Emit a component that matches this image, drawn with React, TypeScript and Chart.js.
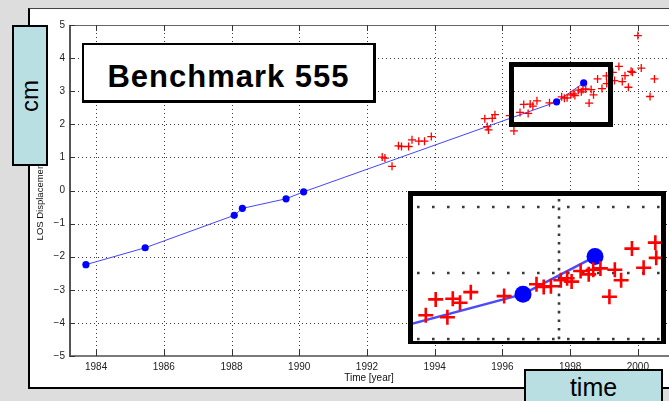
import { useEffect, useRef } from "react";
import { Chart, registerables } from "chart.js";

Chart.register(...registerables);

// ---- data ----
const obsYears = [
  1992.45, 1992.53, 1992.74, 1992.93, 1993.02, 1993.23, 1993.33, 1993.53, 1993.7, 1993.9,
  1995.48, 1995.55, 1995.59, 1995.7, 1995.78, 1996.22, 1996.34, 1996.52, 1996.63, 1996.76,
  1996.82, 1996.9, 1997.02, 1997.39, 1997.75, 1997.83, 1997.91, 1998.02, 1998.09, 1998.14,
  1998.24, 1998.33, 1998.38, 1998.46, 1998.56, 1998.62, 1998.69, 1998.81, 1998.94, 1999.07,
  1999.08, 1999.26, 1999.31, 1999.44, 1999.54, 1999.62, 1999.72, 1999.8, 1999.84, 2000.0,
  2000.1, 2000.36, 2000.49,
];
const obsValues = [
  1.01, 0.98, 0.73, 1.35, 1.33, 1.33, 1.53, 1.49, 1.49, 1.63,
  2.17, 1.93, 1.83, 2.18, 2.29, 2.26, 1.8, 2.36, 2.6, 2.33,
  2.61, 2.55, 2.71, 2.65, 2.83, 2.79, 2.8, 2.89, 2.92, 2.87,
  3.03, 2.98, 3.05, 3.07, 2.64, 3.05, 2.89, 3.37, 3.08, 3.46,
  3.23, 3.57, 3.32, 3.75, 3.29, 3.47, 3.12, 3.6, 3.57, 4.68,
  3.7, 2.84, 3.37,
];
const fitYears = [1983.7, 1985.45, 1988.08, 1988.32, 1989.61, 1990.13, 1997.6, 1998.4];
const fitValues = [-2.24, -1.73, -0.75, -0.54, -0.25, -0.04, 2.68, 3.25];

const xTicks = [1984, 1986, 1988, 1990, 1992, 1994, 1996, 1998, 2000];
const yTicks = [-5, -4, -3, -2, -1, 0, 1, 2, 3, 4, 5];
const insetXGrid = [1998];
const insetYGrid = [2, 3, 4];

const xTitle = "Time [year]";
const yTitle = "LOS Displacement [cm]";
const titleText = "Benchmark 555";
const unitLabel = "cm";
const timeLabel = "time";

const FONT = "'Liberation Sans', Arial, Helvetica, sans-serif";
const CYAN = "#b9dfe2";

const mainFrame = {
  id: "mainFrame",
  beforeDatasetsDraw(chart: any) {
    const { ctx, chartArea: a } = chart;
    const sx = chart.scales.x;
    const sy = chart.scales.y;
    ctx.save();
    ctx.strokeStyle = "#3a3a3a";
    ctx.lineWidth = 1;
    ctx.setLineDash([1, 3]);
    ctx.beginPath();
    xTicks.forEach((v) => {
      const px = Math.round(sx.getPixelForValue(v)) + 0.5;
      ctx.moveTo(px, a.top);
      ctx.lineTo(px, a.bottom);
    });
    yTicks.forEach((v) => {
      const py = Math.round(sy.getPixelForValue(v)) + 0.5;
      ctx.moveTo(a.left, py);
      ctx.lineTo(a.right, py);
    });
    ctx.stroke();
    ctx.restore();
  },
  afterDraw(chart: any) {
    const { ctx, chartArea: a } = chart;
    const sx = chart.scales.x;
    const sy = chart.scales.y;
    ctx.save();
    ctx.setLineDash([]);
    ctx.strokeStyle = "#666";
    ctx.lineWidth = 1.2;
    ctx.beginPath();
    ctx.moveTo(a.left, a.top + 0.5);
    ctx.lineTo(a.right + 5, a.top + 0.5);
    ctx.stroke();
    ctx.strokeStyle = "#7a7a7a";
    ctx.lineWidth = 2;
    ctx.beginPath();
    ctx.moveTo(a.left, a.bottom);
    ctx.lineTo(a.right + 5, a.bottom);
    ctx.stroke();
    ctx.strokeStyle = "#555";
    ctx.beginPath();
    ctx.moveTo(a.left, a.top);
    ctx.lineTo(a.left, a.bottom + 1);
    ctx.stroke();
    ctx.strokeStyle = "#333";
    ctx.lineWidth = 1;
    ctx.beginPath();
    xTicks.forEach((v) => {
      const px = Math.round(sx.getPixelForValue(v)) + 0.5;
      ctx.moveTo(px, a.bottom);
      ctx.lineTo(px, a.bottom - 6);
      ctx.moveTo(px, a.top);
      ctx.lineTo(px, a.top + 6);
    });
    yTicks.forEach((v) => {
      const py = Math.round(sy.getPixelForValue(v)) + 0.5;
      ctx.moveTo(a.left, py);
      ctx.lineTo(a.left + 5, py);
    });
    ctx.stroke();
    ctx.restore();
  },
};

const insetGrid = {
  id: "insetGrid",
  beforeDatasetsDraw(chart: any) {
    const { ctx, chartArea: a } = chart;
    const sx = chart.scales.x;
    const sy = chart.scales.y;
    ctx.save();
    ctx.strokeStyle = "#3a3a3a";
    ctx.lineWidth = 2.6;
    ctx.setLineDash([2.6, 12.4]);
    ctx.beginPath();
    insetYGrid.forEach((v) => {
      const py = sy.getPixelForValue(v);
      ctx.moveTo(a.left + 4, py);
      ctx.lineTo(a.right, py);
    });
    ctx.stroke();
    ctx.setLineDash([2.6, 6]);
    ctx.beginPath();
    insetXGrid.forEach((v) => {
      const px = sx.getPixelForValue(v);
      ctx.moveTo(px, a.top + 3);
      ctx.lineTo(px, a.bottom);
    });
    ctx.stroke();
    ctx.restore();
  },
};

export default function App() {
  const mainRef = useRef<HTMLCanvasElement>(null);
  const insetRef = useRef<HTMLCanvasElement>(null);

  useEffect(() => {
    const obs = obsYears.map((x, i) => ({ x, y: obsValues[i] }));
    const fit = fitYears.map((x, i) => ({ x, y: fitValues[i] }));

    const main = new Chart(mainRef.current as HTMLCanvasElement, {
      type: "scatter",
      data: {
        datasets: [
          {
            label: "observed",
            data: obs,
            pointStyle: "cross",
            pointRadius: 4,
            pointBorderWidth: 1.3,
            borderColor: "#ff0000",
            backgroundColor: "#ff0000",
            showLine: false,
          },
          {
            label: "model",
            data: fit,
            showLine: true,
            borderColor: "#4444ff",
            borderWidth: 1,
            pointRadius: 3.6,
            pointBorderWidth: 0,
            pointBackgroundColor: "#0000ff",
            pointBorderColor: "#0000ff",
          },
        ],
      },
      options: {
        responsive: false,
        animation: false,
        events: [],
        layout: { autoPadding: false, padding: { left: 0, top: 25, right: 1, bottom: 0 } },
        plugins: { legend: { display: false }, tooltip: { enabled: false } },
        scales: {
          x: {
            type: "linear",
            min: 1983.23,
            max: 2000.89,
            afterBuildTicks: (s: any) => {
              s.ticks = xTicks.map((value) => ({ value }));
            },
            afterFit: (s: any) => {
              s.height = 45;
            },
            grid: { display: false, drawTicks: false },
            border: { display: false },
            ticks: {
              padding: 5,
              color: "#222",
              font: { family: FONT, size: 10 },
              callback: (v: any) => String(v),
              maxRotation: 0,
              autoSkip: false,
            },
            title: {
              display: true,
              text: xTitle,
              color: "#111",
              font: { family: FONT, size: 10 },
              padding: { top: 0, bottom: 17 },
            },
          },
          y: {
            type: "linear",
            min: -5,
            max: 5,
            afterBuildTicks: (s: any) => {
              s.ticks = yTicks.map((value) => ({ value }));
            },
            afterFit: (s: any) => {
              s.width = 70;
            },
            grid: { display: false, drawTicks: false },
            border: { display: false },
            ticks: {
              padding: 5,
              color: "#222",
              font: { family: FONT, size: 10 },
              callback: (v: any) => (v < 0 ? "\u2212" + Math.abs(v) : String(v)),
              autoSkip: false,
            },
            title: {
              display: true,
              text: yTitle,
              color: "#111",
              font: { family: FONT, size: 9.5 },
              padding: { top: 35, bottom: 0 },
            },
          },
        },
      },
      plugins: [mainFrame],
    } as any);

    const inset = new Chart(insetRef.current as HTMLCanvasElement, {
      type: "scatter",
      data: {
        datasets: [
          {
            label: "observed",
            data: obs,
            pointStyle: "cross",
            pointRadius: 7.5,
            pointBorderWidth: 2.6,
            borderColor: "#ff0000",
            backgroundColor: "#ff0000",
            showLine: false,
          },
          {
            label: "model",
            data: fit,
            showLine: true,
            borderColor: "#4a4aff",
            borderWidth: 2.5,
            pointRadius: 8.5,
            pointBorderWidth: 0,
            pointBackgroundColor: "#0000ff",
            pointBorderColor: "#0000ff",
          },
        ],
      },
      options: {
        responsive: false,
        animation: false,
        events: [],
        layout: { autoPadding: false, padding: 0 },
        plugins: { legend: { display: false }, tooltip: { enabled: false } },
        scales: {
          x: { type: "linear", display: false, min: 1996.378, max: 1999.133 },
          y: { type: "linear", display: false, min: 1.97, max: 4.167 },
        },
      },
      plugins: [insetGrid],
    } as any);

    return () => {
      main.destroy();
      inset.destroy();
    };
  }, []);

  const abs = (s: any) => ({ position: "absolute", boxSizing: "border-box", ...s } as any);

  return (
    <div
      style={{
        position: "fixed",
        left: 0,
        top: 0,
        width: 669,
        height: 401,
        overflow: "hidden",
        background: "#dddddd",
        fontFamily: FONT,
      }}
    >
      <div
        style={abs({
          left: 28,
          top: 8,
          width: 700,
          height: 381,
          background: "#fff",
          borderLeft: "2px solid #000",
          borderTop: "1px solid #444",
          borderBottom: "2px solid #000",
        })}
      />
      <canvas ref={mainRef} width={669} height={401} style={abs({ left: 0, top: 0 })} />
      <div style={abs({ left: 509, top: 62, width: 104, height: 65, border: "5px solid #000" })} />
      <div
        style={abs({
          left: 408,
          top: 191,
          width: 258,
          height: 153,
          border: "5px solid #000",
          borderBottomWidth: 3,
          background: "#fff",
        })}
      >
        <canvas ref={insetRef} width={248} height={145} style={abs({ left: 0, top: 0 })} />
      </div>
      <div
        style={abs({
          left: 82,
          top: 43,
          width: 294,
          height: 60,
          background: "#fff",
          border: "2px solid #000",
          borderBottomWidth: 3,
          borderRightWidth: 3,
          paddingTop: 16,
          textAlign: "center",
          fontSize: 31,
          lineHeight: 1,
          fontWeight: 700,
          letterSpacing: 1,
          color: "#000",
          whiteSpace: "nowrap",
        })}
      >
        {titleText}
      </div>
      <div
        style={abs({
          left: 12,
          top: 25,
          width: 36,
          height: 141,
          background: CYAN,
          border: "2px solid #000",
        })}
      >
        <span
          style={{
            position: "absolute",
            left: "50%",
            top: "50%",
            transform: "translate(-50%, -50%) rotate(-90deg)",
            fontSize: 24,
            color: "#000",
            whiteSpace: "nowrap",
          }}
        >
          {unitLabel}
        </span>
      </div>
      <div
        style={abs({
          left: 524,
          top: 369,
          width: 139,
          height: 45,
          background: CYAN,
          border: "2px solid #000",
          paddingTop: 2,
          textAlign: "center",
          fontSize: 25,
          color: "#000",
          whiteSpace: "nowrap",
        })}
      >
        {timeLabel}
      </div>
    </div>
  );
}
